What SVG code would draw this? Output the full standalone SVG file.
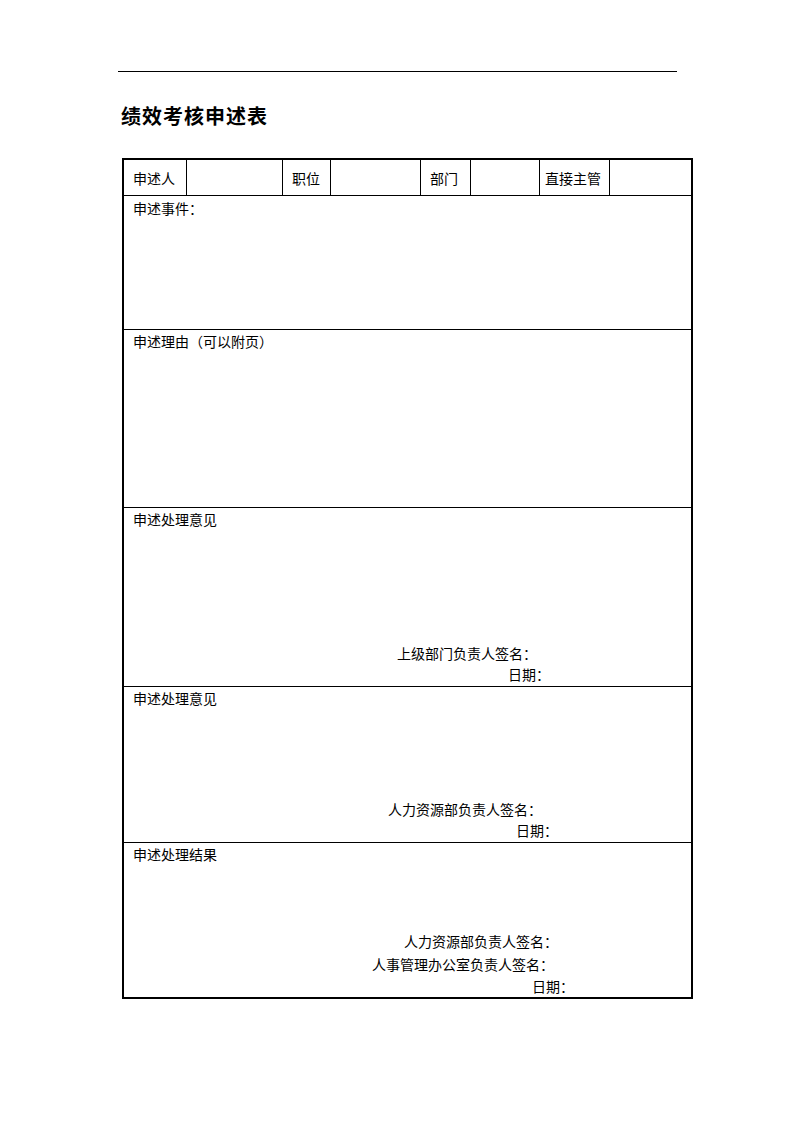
<svg xmlns="http://www.w3.org/2000/svg" width="794" height="1123" viewBox="0 0 794 1123">
<style>
.t{font-family:"Noto Sans CJK SC","Noto Sans CJK JP",sans-serif;font-size:14px;fill:#000}
.title{font-family:"Noto Sans CJK SC",sans-serif;font-size:20px;font-weight:bold;letter-spacing:1px;fill:#000}
.thin{stroke:#000;stroke-width:1;fill:none}
.thick{stroke:#000;stroke-width:2;fill:none}
</style>
<rect width="794" height="1123" fill="#fff"/>
<line x1="118" y1="71.5" x2="677" y2="71.5" class="thin"/>
<text id="title" class="title" x="121" y="124">绩效考核申述表</text>
<g id="connectors">
<line class="thin" x1="186.5" y1="159" x2="186.5" y2="195"/>
<line class="thin" x1="282.5" y1="159" x2="282.5" y2="195"/>
<line class="thin" x1="330.5" y1="159" x2="330.5" y2="195"/>
<line class="thin" x1="420.5" y1="159" x2="420.5" y2="195"/>
<line class="thin" x1="470.5" y1="159" x2="470.5" y2="195"/>
<line class="thin" x1="539.5" y1="159" x2="539.5" y2="195"/>
<line class="thin" x1="609.5" y1="159" x2="609.5" y2="195"/>
<line class="thin" x1="123" y1="195.5" x2="692" y2="195.5"/>
<line class="thin" x1="123" y1="329.5" x2="692" y2="329.5"/>
<line class="thin" x1="123" y1="507.5" x2="692" y2="507.5"/>
<line class="thin" x1="123" y1="686.5" x2="692" y2="686.5"/>
<line class="thin" x1="123" y1="842.5" x2="692" y2="842.5"/>
<rect class="thick" x="123" y="159" width="569" height="839"/>
</g>
<g id="header">
<text class="t" x="133" y="184">申述人</text>
<text class="t" x="292" y="184">职位</text>
<text class="t" x="430" y="184">部门</text>
<text class="t" x="545" y="184">直接主管</text>
</g>
<g id="event"><text class="t" x="133" y="214">申述事件：</text></g>
<g id="reason"><text class="t" x="133" y="347">申述理由（可以附页）</text></g>
<g id="opinion1">
<text class="t" x="133" y="525">申述处理意见</text>
<text class="t" x="397" y="659">上级部门负责人签名：</text>
<text class="t" x="508" y="680">日期：</text>
</g>
<g id="opinion2">
<text class="t" x="133" y="704">申述处理意见</text>
<text class="t" x="388" y="815">人力资源部负责人签名：</text>
<text class="t" x="516" y="836">日期：</text>
</g>
<g id="result">
<text class="t" x="133" y="860">申述处理结果</text>
<text class="t" x="404" y="947">人力资源部负责人签名：</text>
<text class="t" x="372" y="970">人事管理办公室负责人签名：</text>
<text class="t" x="532" y="992">日期：</text>
</g>
</svg>
